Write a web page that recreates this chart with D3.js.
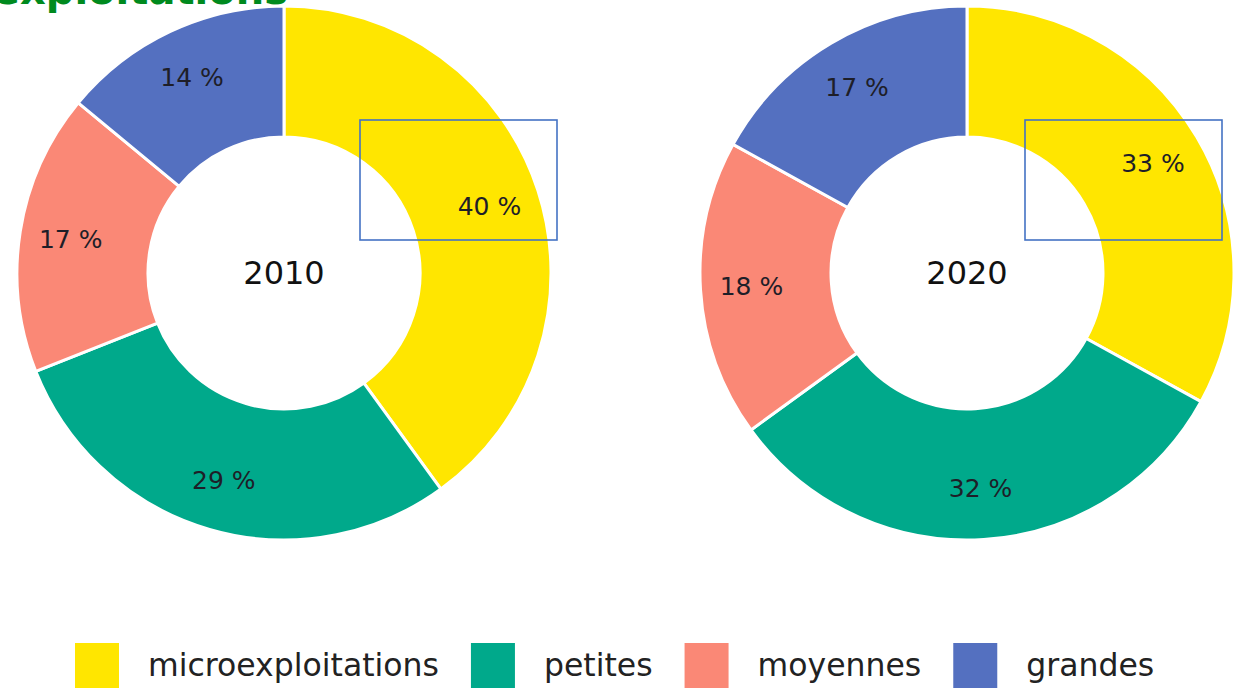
<!DOCTYPE html>
<html><head><meta charset="utf-8">
<script src="https://cdn.jsdelivr.net/npm/d3@7"></script>
<style>
html,body{margin:0;padding:0;background:#fff;overflow:hidden;}
svg{display:block;font-family:"DejaVu Sans",sans-serif;}
</style></head>
<body>
<svg id="chart" width="1239" height="688"></svg>
<script>
const categories = ["microexploitations", "petites", "moyennes", "grandes"];
const years = ["2010", "2020"];
const values2010 = [40, 29, 17, 14];
const values2020 = [33, 32, 18, 17];
const colors = ["#FFE600", "#00A98B", "#FA8876", "#5470C0"];
const titleText = "Répartition des exploitations";

const svg = d3.select("#chart");

// clipped title at top-left (only the bottom of the glyphs is visible in the reference)
svg.append("text")
  .attr("x", 288).attr("y", 4)
  .attr("text-anchor", "end")
  .attr("font-size", 40).attr("font-weight", "bold")
  .attr("fill", "#008A1E")
  .text(titleText);

const color = d3.scaleOrdinal().domain(categories).range(colors);
const xPos = d3.scalePoint().domain(years).range([284, 967]);
const cy = 273;
const outerR = 267, innerR = 136, labelR = 216;

const pie = d3.pie().sort(null).value(d => d.v);
const arc = d3.arc().innerRadius(innerR).outerRadius(outerR);
const labelArc = d3.arc().innerRadius(labelR).outerRadius(labelR);

const datasets = [values2010, values2020];
years.forEach((yr, i) => {
  const data = categories.map((c, j) => ({c, v: datasets[i][j]}));
  const g = svg.append("g").attr("transform", `translate(${xPos(yr)},${cy})`);
  const arcs = pie(data);
  g.selectAll("path").data(arcs).enter().append("path")
    .attr("d", arc)
    .attr("fill", d => color(d.data.c))
    .attr("stroke", "#fff").attr("stroke-width", 3).attr("stroke-linejoin", "round");
  g.selectAll("text.pct").data(arcs).enter().append("text")
    .attr("class", "pct")
    .attr("transform", d => `translate(${labelArc.centroid(d)})`)
    .attr("text-anchor", "middle").attr("dominant-baseline", "central")
    .attr("font-size", 25).attr("fill", "#1e1e28")
    .text(d => d.data.v + " %");
  g.append("text")
    .attr("text-anchor", "middle").attr("dominant-baseline", "central")
    .attr("font-size", 32).attr("fill", "#111")
    .text(yr);
});

// annotation boxes
const boxes = [[360, 120], [1025, 120]];
svg.selectAll("rect.box").data(boxes).enter().append("rect")
  .attr("class", "box")
  .attr("x", d => d[0]).attr("y", d => d[1])
  .attr("width", 197).attr("height", 120)
  .attr("fill", "none").attr("stroke", "#4472C4").attr("stroke-width", 1.6);

// legend
const leg = svg.append("g");
let lx = 75;
categories.forEach((c, i) => {
  leg.append("rect").attr("x", lx).attr("y", 643).attr("width", 44).attr("height", 46)
    .attr("fill", color(c));
  const t = leg.append("text").attr("x", lx + 73).attr("y", 676)
    .attr("font-size", 31.5).attr("fill", "#222").text(c);
  const w = t.node().getComputedTextLength();
  lx = lx + 73 + w + 32;
});
</script>
</body></html>
